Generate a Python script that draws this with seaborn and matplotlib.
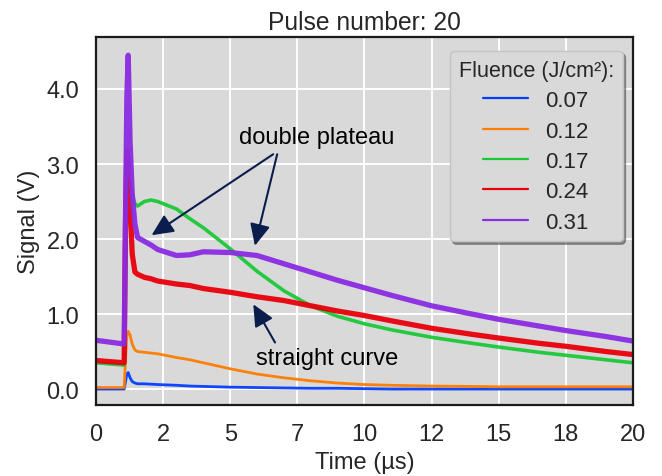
import matplotlib
matplotlib.use("Agg")
import matplotlib.pyplot as plt
import seaborn as sns
from matplotlib.lines import Line2D

# ---------------- data ----------------
time_us = [0.0, 1.05, 1.1, 1.15, 1.2, 1.27, 1.35, 1.45, 1.55, 1.8, 2.05, 2.3,
           3.0, 3.5, 4.0, 5.0, 6.0, 7.0, 8.0, 9.0, 10.0, 11.0, 12.5, 14.0,
           15.0, 16.5, 17.5, 19.0, 20.0]

fluence_labels = ["0.07", "0.12", "0.17", "0.24", "0.31"]

signal_007 = [0.0, 0.0, 0.10, 0.20, 0.22, 0.15, 0.10, 0.08, 0.07, 0.07, 0.065, 0.06,
              0.05, 0.04, 0.035, 0.025, 0.02, 0.015, 0.01, 0.01, 0.005, 0.0, 0.0, 0.0,
              0.0, 0.0, 0.0, 0.0, 0.0]
signal_012 = [0.02, 0.02, 0.40, 0.70, 0.77, 0.72, 0.60, 0.52, 0.50, 0.49, 0.48, 0.47,
              0.42, 0.39, 0.35, 0.27, 0.20, 0.15, 0.11, 0.08, 0.06, 0.05, 0.04, 0.035,
              0.03, 0.03, 0.03, 0.03, 0.03]
signal_017 = [0.35, 0.32, 1.80, 2.60, 2.78, 2.75, 2.60, 2.47, 2.44, 2.50, 2.52, 2.50,
              2.40, 2.27, 2.15, 1.87, 1.57, 1.31, 1.11, 0.97, 0.87, 0.79, 0.69, 0.61,
              0.56, 0.49, 0.45, 0.39, 0.35]
signal_024 = [0.38, 0.35, 2.20, 3.17, 3.00, 2.44, 1.80, 1.56, 1.53, 1.49, 1.47, 1.44,
              1.40, 1.38, 1.34, 1.29, 1.23, 1.18, 1.11, 1.04, 0.98, 0.91, 0.81, 0.73,
              0.68, 0.61, 0.57, 0.50, 0.46]
signal_031 = [0.65, 0.60, 2.30, 3.90, 4.45, 3.30, 2.60, 2.20, 2.02, 1.97, 1.92, 1.86,
              1.78, 1.79, 1.83, 1.82, 1.78, 1.67, 1.56, 1.45, 1.35, 1.25, 1.11, 1.00,
              0.93, 0.84, 0.78, 0.70, 0.64]

series = [signal_007, signal_012, signal_017, signal_024, signal_031]

x_ticks = [0, 2.5, 5, 7.5, 10, 12.5, 15, 17.5, 20]
x_tick_labels = ["0", "2", "5", "7", "10", "12", "15", "18", "20"]
y_ticks = [0, 1, 2, 3, 4]
y_tick_labels = ["0.0", "1.0", "2.0", "3.0", "4.0"]

# ---------------- style ----------------
sns.set_theme(style="darkgrid", rc={
    "axes.facecolor": "#d9d9d9",
    "grid.color": "white",
    "grid.linewidth": 1.4,
    "axes.edgecolor": "#1a1a1a",
    "axes.linewidth": 1.6,
})
plt.rcParams["font.family"] = ["Liberation Sans", "DejaVu Sans"]

colors = sns.color_palette("bright", 5)
line_widths = [2.0, 2.0, 2.6, 3.8, 3.8]

fig = plt.figure(figsize=(6.62, 4.77), dpi=100)
ax = fig.add_axes([0.145, 0.1488, 0.811, 0.7715])

for lab, vals, col, lw in zip(fluence_labels, series, colors, line_widths):
    sns.lineplot(x=time_us, y=vals, color=col, linewidth=lw, ax=ax,
                 legend=False, alpha=0.95, sort=False)

ax.set_xlim(0, 20)
ax.set_ylim(-0.213, 4.693)
ax.set_xticks(x_ticks)
ax.set_xticklabels(x_tick_labels)
ax.set_yticks(y_ticks)
ax.set_yticklabels(y_tick_labels)
ax.tick_params(axis="x", labelsize=17, pad=7, colors="#262626")
ax.tick_params(axis="y", labelsize=17, pad=6, colors="#262626")
for sp in ax.spines.values():
    sp.set_visible(True)
    sp.set_color("#1a1a1a")
    sp.set_linewidth(1.6)

ax.set_xlabel("Time (µs)", fontsize=17, color="#262626", labelpad=4)
ax.set_ylabel("Signal (V)", fontsize=17, color="#262626", labelpad=5)
ax.set_title("Pulse number: 20", fontsize=17.7, color="#262626", pad=6)

# legend
handles = [Line2D([0], [0], color=c, lw=1.6) for c in colors]
leg = ax.legend(handles, fluence_labels, title="Fluence (J/cm²):",
                loc="upper right", bbox_to_anchor=(0.981, 0.962),
                borderaxespad=0, fontsize=16, title_fontsize=15.5,
                labelspacing=0.42, handlelength=2.0, handletextpad=0.8,
                frameon=True, fancybox=True, shadow=True, framealpha=1,
                facecolor="#d9d9d9", edgecolor="#c4c4c4")
leg.get_title().set_color("#262626")
for t in leg.get_texts():
    t.set_color("#262626")

# annotations
arrow_kw = dict(arrowstyle="-|>,head_length=0.6,head_width=0.28", color="#0b1d4d",
                lw=1.5, mutation_scale=22, shrinkA=0, shrinkB=0)
ax.text(8.22, 3.36, "double plateau", fontsize=17, ha="center", va="center", color="black")
ax.annotate("", xy=(2.07, 2.05), xytext=(6.6, 3.13), arrowprops=arrow_kw)
ax.annotate("", xy=(5.92, 1.91), xytext=(6.75, 3.13), arrowprops=arrow_kw)
ax.text(8.62, 0.41, "straight curve", fontsize=17, ha="center", va="center", color="black")
ax.annotate("", xy=(5.86, 1.13), xytext=(6.67, 0.62), arrowprops=arrow_kw)

fig.savefig("out.png", dpi=100)
